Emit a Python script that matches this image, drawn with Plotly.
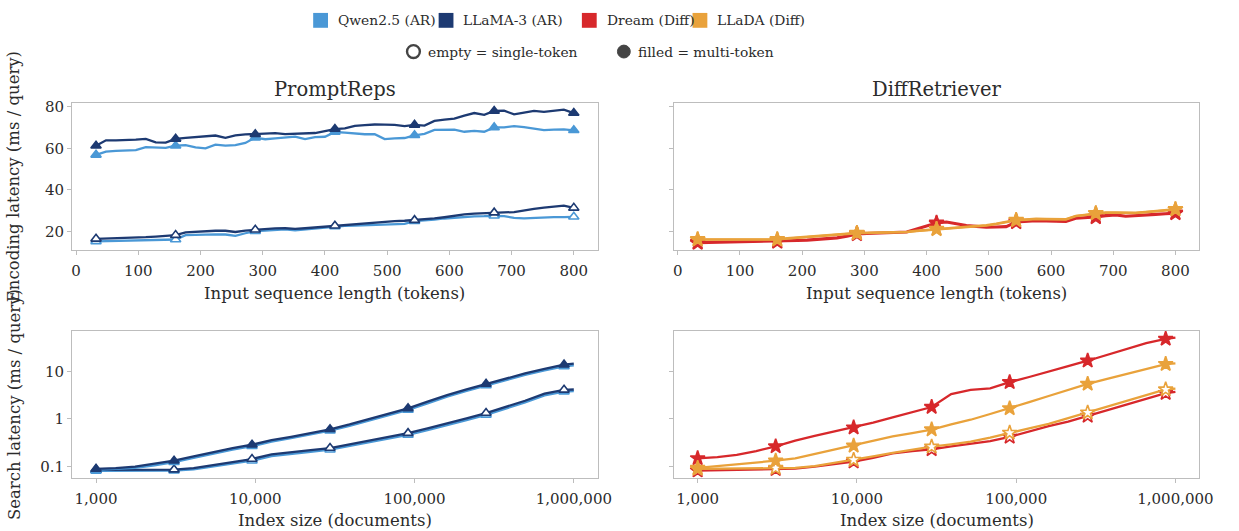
import plotly.graph_objects as go

W, H = 1239, 531

# ---------------- data ----------------
seq_len = [32, 48, 64, 80, 96, 112, 128, 144, 160, 176, 192, 208, 224, 240, 256, 272, 288,
           304, 320, 336, 352, 368, 384, 400, 416, 432, 448, 464, 480, 496, 512, 528, 544,
           560, 576, 592, 608, 624, 640, 656, 672, 688, 704, 720, 736, 752, 768, 784, 800]

enc_llama_multi = [61.3, 63.9, 63.9, 64.0, 64.2, 64.6, 62.9, 62.8, 64.6, 65.1, 65.4, 65.8, 66.2,
                   65.1, 66.3, 66.7, 66.8, 67.2, 67.3, 66.9, 67.1, 67.3, 67.4, 68.3, 69.3, 69.6,
                   70.8, 71.2, 71.5, 71.4, 71.3, 70.7, 71.3, 71.0, 73.2, 73.8, 74.3, 75.8, 77.0,
                   76.1, 78.0, 78.1, 76.4, 77.2, 78.0, 77.6, 78.1, 78.6, 77.0]
enc_qwen_multi = [56.9, 58.4, 58.8, 59.0, 59.2, 60.6, 60.4, 60.3, 61.3, 61.6, 60.5, 60.0, 61.8,
                  61.3, 61.6, 62.6, 65.2, 64.4, 64.8, 65.3, 65.7, 64.5, 65.4, 65.6, 67.9, 67.6,
                  67.2, 66.8, 66.8, 64.5, 64.8, 65.0, 66.3, 67.0, 68.9, 69.0, 69.0, 68.0, 68.4,
                  68.0, 70.1, 70.1, 70.7, 70.2, 69.6, 68.8, 69.0, 69.1, 68.7]
enc_llama_single = [16.5, 16.6, 16.7, 16.9, 17.1, 17.3, 17.6, 17.9, 18.3, 19.6, 19.9, 20.2, 20.4,
                    20.4, 19.8, 20.5, 20.9, 21.2, 21.5, 21.6, 21.3, 21.6, 22.0, 22.3, 22.8, 23.2,
                    23.6, 23.9, 24.3, 24.7, 25.0, 25.2, 25.5, 25.8, 26.3, 26.9, 27.6, 28.3, 28.6,
                    28.9, 29.1, 29.2, 29.4, 30.3, 30.9, 31.5, 32.0, 32.5, 31.4]
enc_qwen_single = [15.3, 15.4, 15.5, 15.6, 15.7, 15.8, 16.0, 16.1, 16.2, 18.3, 18.5, 18.6, 18.7,
                   18.6, 17.9, 19.2, 20.2, 20.5, 20.9, 21.1, 20.6, 21.0, 21.6, 22.0, 22.5, 22.7,
                   22.9, 23.1, 23.4, 23.5, 23.6, 23.7, 25.0, 25.3, 25.8, 26.3, 26.7, 27.1, 27.3,
                   27.4, 27.6, 27.4, 26.6, 26.4, 26.7, 26.9, 27.0, 27.0, 27.1]
enc_dream_multi = [14.9, 15.0, 15.0, 15.1, 15.1, 15.2, 15.3, 15.3, 15.4, 15.6, 15.9, 16.1, 16.4,
                   16.8, 17.2, 18.0, 19.1, 19.3, 19.5, 19.7, 19.8, 20.0, 21.4, 22.9, 24.3, 24.8,
                   24.0, 23.1, 22.7, 22.3, 22.4, 22.6, 24.8, 25.1, 25.4, 25.3, 25.2, 25.1, 26.6,
                   26.9, 27.2, 27.9, 28.2, 27.6, 27.8, 28.2, 28.5, 28.8, 29.1]
enc_dream_single = [14.5, 14.6, 14.6, 14.7, 14.7, 14.8, 14.9, 14.9, 15.0, 15.2, 15.5, 15.7, 16.0,
                    16.4, 16.8, 17.6, 18.7, 18.9, 19.1, 19.3, 19.4, 19.6, 21.0, 22.5, 23.9, 24.4,
                    23.6, 22.7, 22.3, 21.9, 22.0, 22.2, 24.4, 24.7, 25.0, 24.9, 24.8, 24.7, 26.2,
                    26.5, 26.8, 27.5, 27.8, 27.2, 27.4, 27.8, 28.1, 28.4, 28.7]
enc_llada_multi = [16.1, 16.1, 16.1, 16.1, 16.1, 16.1, 16.1, 16.1, 16.1, 16.6, 17.0, 17.2, 17.5,
                   17.9, 18.3, 18.7, 19.2, 19.3, 19.4, 19.5, 19.6, 19.7, 20.2, 20.6, 21.1, 21.5,
                   21.9, 22.2, 22.4, 22.9, 23.6, 24.5, 25.4, 25.7, 26.0, 25.9, 25.8, 25.8, 27.4,
                   28.0, 28.7, 29.0, 29.0, 28.9, 28.9, 29.3, 29.7, 30.2, 30.6]
enc_llada_single = [16.3, 16.3, 16.3, 16.3, 16.3, 16.3, 16.3, 16.3, 16.3, 16.8, 17.2, 17.4, 17.7,
                    18.1, 18.5, 18.9, 19.4, 19.5, 19.6, 19.7, 19.8, 19.9, 20.4, 20.8, 21.3, 21.7,
                    22.1, 22.4, 22.6, 23.1, 23.8, 24.7, 25.6, 25.9, 26.2, 26.1, 26.0, 26.0, 27.6,
                    28.2, 28.9, 29.2, 29.2, 29.1, 29.1, 29.5, 29.9, 30.4, 30.8]

index_size = [1000, 1330, 1760, 2330, 3090, 4100, 5430, 7200, 9540, 12650, 16770, 22230, 29470,
              39070, 51800, 68670, 91030, 120700, 160000, 212100, 281200, 372800, 494200,
              655100, 868500, 1000000]

srch_llama_multi = [0.088, 0.091, 0.098, 0.112, 0.131, 0.162, 0.200, 0.240, 0.284, 0.355, 0.417,
                    0.50, 0.600, 0.76, 0.98, 1.26, 1.66, 2.29, 3.16, 4.17, 5.43, 7.08, 9.0, 11.2,
                    13.8, 14.5]
srch_qwen_multi = [0.084, 0.087, 0.093, 0.105, 0.122, 0.151, 0.187, 0.224, 0.265, 0.33, 0.39,
                   0.465, 0.56, 0.71, 0.91, 1.17, 1.54, 2.12, 2.93, 3.87, 5.05, 6.58, 8.4, 10.4,
                   12.7, 13.4]
srch_llama_single = [0.084, 0.084, 0.084, 0.084, 0.085, 0.091, 0.105, 0.123, 0.142, 0.178, 0.200,
                     0.219, 0.242, 0.288, 0.343, 0.412, 0.498, 0.63, 0.79, 1.02, 1.32, 1.78, 2.40,
                     3.39, 4.07, 4.14]
srch_qwen_single = [0.080, 0.080, 0.080, 0.080, 0.081, 0.086, 0.098, 0.114, 0.131, 0.164, 0.184,
                    0.202, 0.223, 0.265, 0.316, 0.379, 0.458, 0.58, 0.73, 0.94, 1.21, 1.64, 2.21,
                    3.12, 3.74, 3.81]
srch_dream_multi = [0.147, 0.155, 0.174, 0.209, 0.262, 0.347, 0.437, 0.537, 0.653, 0.83, 1.07,
                    1.38, 1.77, 3.31, 4.07, 4.37, 5.89, 7.59, 10.0, 12.9, 16.7, 22.4, 29.5, 39.1,
                    48.2, 51.4]
srch_llada_multi = [0.092, 0.100, 0.110, 0.120, 0.131, 0.147, 0.182, 0.224, 0.270, 0.339, 0.427,
                    0.50, 0.594, 0.76, 0.955, 1.26, 1.66, 2.24, 3.02, 4.07, 5.43, 6.92, 8.81, 11.2,
                    14.2, 14.7]
srch_dream_single = [0.081, 0.082, 0.083, 0.085, 0.0865, 0.089, 0.098, 0.110, 0.125, 0.150, 0.186,
                     0.209, 0.227, 0.261, 0.296, 0.339, 0.417, 0.54, 0.70, 0.87, 1.15, 1.51, 2.04,
                     2.69, 3.47, 3.70]
srch_llada_single = [0.088, 0.089, 0.090, 0.091, 0.092, 0.092, 0.101, 0.117, 0.136, 0.162, 0.192,
                     0.225, 0.258, 0.29, 0.33, 0.40, 0.506, 0.63, 0.78, 1.03, 1.35, 1.80, 2.40,
                     3.20, 4.14, 4.33]

x_ticks_len = [0, 100, 200, 300, 400, 500, 600, 700, 800]
x_ticks_idx = [1000, 10000, 100000, 1000000]
x_ticks_idx_text = ["1,000", "10,000", "100,000", "1,000,000"]
y_ticks_enc = [20, 40, 60, 80]
y_ticks_srch = [0.1, 1, 10]
y_ticks_srch_text = ["0.1", "1", "10"]

models = ["Qwen2.5 (AR)", "LLaMA-3 (AR)", "Dream (Diff)", "LLaDA (Diff)"]
colors = {"Qwen2.5 (AR)": "#4a98d6", "LLaMA-3 (AR)": "#1d3a72",
          "Dream (Diff)": "#d7282b", "LLaDA (Diff)": "#e9a23b"}

# ---------------- figure ----------------
FONT = "'DejaVu Serif', 'Noto Serif', 'Liberation Serif', serif"
TXT = "#2b2b2b"
GRID = "#bdbdbd"

fig = go.Figure()


def add_series(x, y, color, symbol, filled, ax, every, msize):
    xa = "x" if ax == 1 else f"x{ax}"
    ya = "y" if ax == 1 else f"y{ax}"
    fig.add_trace(go.Scatter(x=x, y=y, mode="lines", line=dict(color=color, width=2.3),
                             xaxis=xa, yaxis=ya, showlegend=False, hoverinfo="skip"))
    mx = x[::every]
    my = y[::every]
    fig.add_trace(go.Scatter(
        x=mx, y=my, mode="markers", xaxis=xa, yaxis=ya, showlegend=False,
        marker=dict(symbol=symbol, size=msize,
                    color=color if filled else "white",
                    line=dict(color=color, width=1.6))))


q, l, d, a = (colors[m] for m in models)
# top-left: PromptReps encoding
add_series(seq_len, enc_qwen_single, q, "triangle-up", False, 1, 8, 9)
add_series(seq_len, enc_llama_single, l, "triangle-up", False, 1, 8, 9)
add_series(seq_len, enc_qwen_multi, q, "triangle-up", True, 1, 8, 9)
add_series(seq_len, enc_llama_multi, l, "triangle-up", True, 1, 8, 9)
# top-right: DiffRetriever encoding
add_series(seq_len, enc_dream_single, d, "star", False, 2, 8, 11)
add_series(seq_len, enc_dream_multi, d, "star", True, 2, 8, 11)
add_series(seq_len, enc_llada_single, a, "star", False, 2, 8, 11)
add_series(seq_len, enc_llada_multi, a, "star", True, 2, 8, 11)
# bottom-left: PromptReps search
add_series(index_size, srch_qwen_single, q, "triangle-up", False, 3, 4, 9)
add_series(index_size, srch_llama_single, l, "triangle-up", False, 3, 4, 9)
add_series(index_size, srch_qwen_multi, q, "triangle-up", True, 3, 4, 9)
add_series(index_size, srch_llama_multi, l, "triangle-up", True, 3, 4, 9)
# bottom-right: DiffRetriever search
add_series(index_size, srch_dream_single, d, "star", False, 4, 4, 11)
add_series(index_size, srch_llada_single, a, "star", False, 4, 4, 11)
add_series(index_size, srch_dream_multi, d, "star", True, 4, 4, 11)
add_series(index_size, srch_llada_multi, a, "star", True, 4, 4, 11)

# layout geometry (pixels)
L1, R1, L2, R2 = 72, 604, 681, 1213
T1, B1, T2, B2 = 99, 247, 329, 477

axis_common = dict(showline=True, linecolor=GRID, linewidth=1, mirror=True,
                   ticks="outside", ticklen=4, tickwidth=1, tickcolor=GRID,
                   showgrid=False, zeroline=False,
                   tickfont=dict(family=FONT, size=15, color=TXT))

xr_len = [-6.4, 838.4]
xr_idx = [2.85, 6.15]
yr_enc = [11.3, 81.8]
yr_srch = [-1.237, 1.851]

fig.update_layout(
    width=W, height=H, margin=dict(l=0, r=0, t=0, b=0),
    paper_bgcolor="white", plot_bgcolor="white",
    xaxis=dict(domain=[L1 / W, R1 / W], anchor="y", range=xr_len, tickvals=x_ticks_len,
               ticklabelstandoff=3, **axis_common),
    xaxis2=dict(domain=[L2 / W, R2 / W], anchor="y2", range=xr_len, tickvals=x_ticks_len,
                ticklabelstandoff=3, **axis_common),
    xaxis3=dict(domain=[L1 / W, R1 / W], anchor="y3", type="log", range=xr_idx,
                tickvals=x_ticks_idx, ticktext=x_ticks_idx_text, ticklabelstandoff=3,
                **axis_common),
    xaxis4=dict(domain=[L2 / W, R2 / W], anchor="y4", type="log", range=xr_idx,
                tickvals=x_ticks_idx, ticktext=x_ticks_idx_text, ticklabelstandoff=3,
                **axis_common),
    yaxis=dict(domain=[1 - B1 / H, 1 - T1 / H], anchor="x", range=yr_enc,
               tickvals=y_ticks_enc, **axis_common),
    yaxis2=dict(domain=[1 - B1 / H, 1 - T1 / H], anchor="x2", range=yr_enc,
                tickvals=y_ticks_enc, showticklabels=False, **axis_common),
    yaxis3=dict(domain=[1 - B2 / H, 1 - T2 / H], anchor="x3", type="log", range=yr_srch,
                tickvals=y_ticks_srch, ticktext=y_ticks_srch_text, **axis_common),
    yaxis4=dict(domain=[1 - B2 / H, 1 - T2 / H], anchor="x4", type="log", range=yr_srch,
                tickvals=y_ticks_srch, ticktext=y_ticks_srch_text, showticklabels=False,
                **axis_common),
)

ann = []
shapes = []


def text(px, py, s, size, anchor="center", angle=0):
    ann.append(dict(x=px / W, y=1 - py / H, xref="paper", yref="paper", text=s,
                    showarrow=False, xanchor=anchor, yanchor="middle", textangle=angle,
                    font=dict(family=FONT, size=size, color=TXT)))


# subplot titles
text((L1 + R1) / 2, 85, "PromptReps", 19.5)
text((L2 + R2) / 2, 85, "DiffRetriever", 19.5)
# axis titles
text((L1 + R1) / 2, 291, "Input sequence length (tokens)", 16.5)
text((L2 + R2) / 2, 291, "Input sequence length (tokens)", 16.5)
text((L1 + R1) / 2, 520, "Index size (documents)", 16.5)
text((L2 + R2) / 2, 520, "Index size (documents)", 16.5)
text(13, (T1 + B1) / 2, "Encoding latency (ms / query)", 16.5, angle=-90)
text(13, (T2 + B2) / 2, "Search latency (ms / query)", 16.5, angle=-90)

# legend row 1: colour squares
leg_sq_x = [316, 443, 588, 700]
for m, sx in zip(models, leg_sq_x):
    shapes.append(dict(type="rect", xref="paper", yref="paper",
                       x0=sx / W, x1=(sx + 15) / W, y0=1 - 23 / H, y1=1 - 8 / H,
                       fillcolor=colors[m], line=dict(width=0)))
    text(sx + 23, 15, m, 13.8, anchor="left")
# legend row 2: marker fill meaning
shapes.append(dict(type="circle", xref="paper", yref="paper",
                   x0=411 / W, x1=424 / W, y0=1 - 53.5 / H, y1=1 - 40.5 / H,
                   fillcolor="white", line=dict(color="#444444", width=2.4)))
text(430, 47, "empty = single-token", 13.8, anchor="left")
shapes.append(dict(type="circle", xref="paper", yref="paper",
                   x0=624 / W, x1=637 / W, y0=1 - 53.5 / H, y1=1 - 40.5 / H,
                   fillcolor="#444444", line=dict(color="#444444", width=1)))
text(643, 47, "filled = multi-token", 13.8, anchor="left")

fig.update_layout(annotations=ann, shapes=shapes)

fig.write_html("out.html", config={"displayModeBar": False},
               post_script="document.body.style.margin='0';document.body.style.padding='0';")
